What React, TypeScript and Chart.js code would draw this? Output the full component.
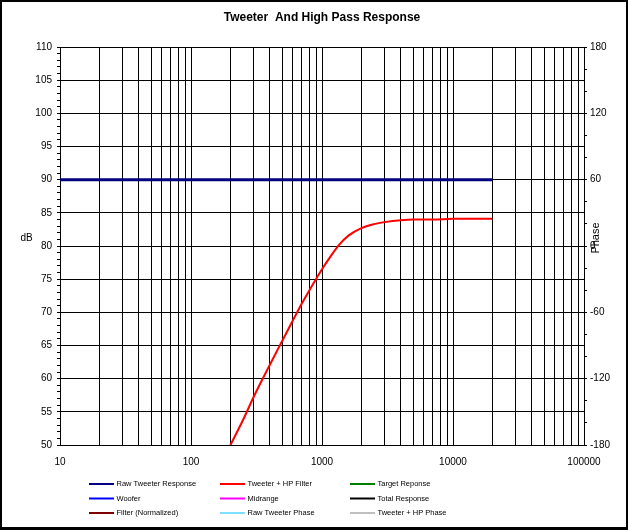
import React, { useEffect, useRef } from "react";
import { Chart, registerables } from "chart.js";

Chart.register(...registerables);

const TITLE = "Tweeter  And High Pass Response";
const LEFT_TITLE = "dB";
const RIGHT_TITLE = "Phase";

const xDecades = [10, 100, 1000, 10000];
const xMultipliers = [1, 2, 3, 4, 5, 6, 7, 8, 9];
const xLabelTicks = [10, 100, 1000, 10000, 100000];
const xMin = 10;
const xMax = 100000;

const yLeftMin = 50;
const yLeftMax = 110;
const yLeftMajor = 5;
const yRightMin = -180;
const yRightMax = 180;
const yRightMajor = 60;

const rawTweeterFreq = [10, 20000];
const rawTweeterDb = [90, 90];

const hpFreq = [200, 250, 300, 400, 500, 600, 700, 800, 900, 1000, 1160, 1340, 1600, 2000, 2500, 3000, 4000, 5000, 7000, 10000, 20000];
const hpDb = [50, 53.8, 57.2, 62.1, 65.8, 68.8, 71.3, 73.3, 75.0, 76.5, 78.4, 80.1, 81.6, 82.7, 83.3, 83.6, 83.9, 84, 84, 84.1, 84.1];

const legendLabels = [
  "Raw Tweeter Response",
  "Tweeter + HP Filter",
  "Target Reponse",
  "Woofer",
  "Midrange",
  "Total Response",
  "Filter (Normalized)",
  "Raw Tweeter Phase",
  "Tweeter + HP Phase",
];
const legendColors = ["#000080", "#ff0000", "#008000", "#0000ff", "#ff00ff", "#000000", "#800000", "#00c0ff", "#808080"];
const legendWidths = [2, 2, 2, 2, 2, 2, 2, 1, 1];

const FONT = "'Liberation Sans', Arial, Helvetica, sans-serif";

const gridFreqs: number[] = [];
xDecades.forEach((d) => xMultipliers.forEach((m) => gridFreqs.push(m * d)));
gridFreqs.push(xMax);

const toXY = (xs: number[], ys: number[]) => xs.map((x, i) => ({ x, y: ys[i] }));

const decorPlugin = {
  id: "decor",
  beforeDraw(chart: any) {
    const ctx = chart.ctx;
    ctx.save();
    ctx.fillStyle = "#ffffff";
    ctx.fillRect(0, 0, chart.width, chart.height);
    ctx.restore();
  },
  afterDraw(chart: any) {
    const ctx = chart.ctx;
    const area = chart.chartArea;
    ctx.save();
    ctx.fillStyle = "#000";
    // title
    ctx.font = `bold 12px ${FONT}`;
    ctx.textAlign = "center";
    ctx.textBaseline = "middle";
    ctx.fillText(TITLE, (area.left + area.right) / 2, 18);
    // left axis title
    ctx.font = `10px ${FONT}`;
    ctx.fillText(LEFT_TITLE, 26.5, 238);
    // right axis title (rotated)
    ctx.save();
    ctx.translate(596, 238);
    ctx.rotate(-Math.PI / 2);
    ctx.font = `11px ${FONT}`;
    ctx.fillText(RIGHT_TITLE, 0, 0);
    ctx.restore();
    // legend
    const colX = [89, 220, 350];
    const rowY = [484, 498.5, 513];
    ctx.font = `7.5px ${FONT}`;
    ctx.textAlign = "left";
    ctx.textBaseline = "middle";
    chart.data.datasets.forEach((ds: any, i: number) => {
      const c = i % 3;
      const r = Math.floor(i / 3);
      const x = colX[c];
      const y = rowY[r];
      ctx.strokeStyle = legendColors[i];
      ctx.lineWidth = legendWidths[i];
      ctx.beginPath();
      ctx.moveTo(x, y);
      ctx.lineTo(x + 25, y);
      ctx.stroke();
      ctx.fillStyle = "#000";
      ctx.fillText(ds.label, x + 27.5, y);
    });
    // frame
    ctx.fillStyle = "#000";
    ctx.fillRect(0, 0, chart.width, 2);
    ctx.fillRect(0, 0, 2, chart.height);
    ctx.fillRect(chart.width - 2, 0, 2, chart.height);
    ctx.fillRect(0, chart.height - 3, chart.width, 3);
    ctx.restore();
  },
};

export default function App() {
  const canvasRef = useRef<HTMLCanvasElement | null>(null);

  useEffect(() => {
    document.body.style.margin = "0";
    const canvas = canvasRef.current;
    if (!canvas) return;

    const datasets = legendLabels.map((label, i) => {
      let data: { x: number; y: number }[] = [];
      if (i === 0) data = toXY(rawTweeterFreq, rawTweeterDb);
      if (i === 1) data = toXY(hpFreq, hpDb);
      return {
        label,
        data,
        borderColor: legendColors[i],
        backgroundColor: legendColors[i],
        borderWidth: i === 0 ? 3 : legendWidths[i],
        pointRadius: 0,
        fill: false,
        cubicInterpolationMode: "monotone" as const,
        yAxisID: i >= 7 ? "y1" : "y",
      };
    });

    const chart = new Chart(canvas, {
      type: "line",
      data: { datasets },
      options: {
        animation: false,
        responsive: true,
        maintainAspectRatio: false,
        events: [],
        layout: { padding: { top: 47, left: 0, right: 0, bottom: 0 } },
        plugins: {
          legend: { display: false },
          title: { display: false },
          tooltip: { enabled: false },
        },
        scales: {
          x: {
            type: "logarithmic",
            min: xMin,
            max: xMax,
            afterBuildTicks: (scale: any) => {
              scale.ticks = gridFreqs.map((v) => ({ value: v }));
            },
            afterFit: (scale: any) => {
              scale.height = 85;
            },
            grid: { color: "#000", lineWidth: 1, drawTicks: false },
            border: { display: true, color: "#000", width: 1 },
            ticks: {
              autoSkip: false,
              maxRotation: 0,
              minRotation: 0,
              padding: 11,
              color: "#000",
              font: { family: FONT, size: 10 },
              callback: (v: any) => (xLabelTicks.includes(Number(v)) ? String(v) : ""),
            },
          },
          y: {
            type: "linear",
            position: "left",
            min: yLeftMin,
            max: yLeftMax,
            afterFit: (scale: any) => {
              scale.width = 60;
            },
            grid: {
              color: (c: any) => (c.tick && c.tick.value % yLeftMajor === 0 ? "#000" : "rgba(0,0,0,0)"),
              tickColor: "#000",
              tickLength: 3,
              lineWidth: 1,
            },
            border: { display: true, color: "#000", width: 1 },
            ticks: {
              stepSize: 1,
              maxTicksLimit: 1000,
              autoSkip: false,
              padding: 5,
              color: "#000",
              font: { family: FONT, size: 10 },
              callback: (v: any) => (Number(v) % yLeftMajor === 0 ? String(v) : ""),
            },
          },
          y1: {
            type: "linear",
            position: "right",
            min: yRightMin,
            max: yRightMax,
            afterFit: (scale: any) => {
              scale.width = 44;
            },
            grid: { drawOnChartArea: false, tickColor: "#000", tickLength: 3, lineWidth: 1 },
            border: { display: true, color: "#000", width: 1 },
            ticks: {
              stepSize: 20,
              maxTicksLimit: 1000,
              autoSkip: false,
              padding: 3,
              color: "#000",
              font: { family: FONT, size: 10 },
              callback: (v: any) => (Number(v) % yRightMajor === 0 ? String(v) : ""),
            },
          },
        },
      },
      plugins: [decorPlugin],
    });

    return () => chart.destroy();
  }, []);

  return (
    <div style={{ width: 628, height: 530, position: "relative" }}>
      <canvas ref={canvasRef} />
    </div>
  );
}
